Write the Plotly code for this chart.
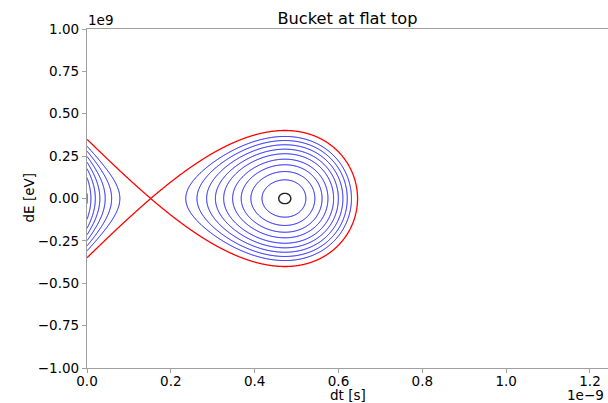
import numpy as np
import plotly.graph_objects as go

# ---- axis ticks (dt in units of 1e-9 s, dE in units of 1e9 eV) ----
x_tick_vals = [0.0, 0.2, 0.4, 0.6, 0.8, 1.0, 1.2]
x_tick_text = ["0.0", "0.2", "0.4", "0.6", "0.8", "1.0", "1.2"]
y_tick_vals = [-1.0, -0.75, -0.5, -0.25, 0.0, 0.25, 0.5, 0.75, 1.0]
y_tick_text = ["\u22121.00", "\u22120.75", "\u22120.50", "\u22120.25", "0.00",
               "0.25", "0.50", "0.75", "1.00"]
x_range = [0.0, 1.243]   # 1e-9 s
y_range = [-1.0, 1.0]    # 1e9 eV

# ---- bucket ----
phi_s = 0.73              # synchronous phase [rad]
dt_stable = 0.472         # stable fixed point [1e-9 s]
dt_unstable = 0.152       # unstable fixed point (separatrix crossing) [1e-9 s]
# contour levels given by their half height in dE at dt_stable [1e9 eV]
centre_level = [0.031]
blue_levels = [0.110, 0.159, 0.199, 0.232, 0.264, 0.291, 0.317, 0.342, 0.366]
separatrix_level = [0.401]

# ---- Hamiltonian on a grid ----
k = (np.pi - 2 * phi_s) / (dt_stable - dt_unstable)


def potential(phi):
    return -np.cos(phi) - phi * np.sin(phi_s)


U_min = potential(phi_s)
U_sep = potential(np.pi - phi_s)
c = (U_sep - U_min) / separatrix_level[0] ** 2

dt_grid = np.linspace(0.0, 0.76, 761)
dE_grid = np.linspace(-0.45, 0.45, 451)
T, E = np.meshgrid(dt_grid, dE_grid)
phi = phi_s - k * (T - dt_stable)
H = E ** 2 + (potential(phi) - U_min) / c   # in (1e9 eV)^2 units

levels = centre_level + blue_levels + separatrix_level
sq = [v ** 2 for v in levels]
xp = [-0.05] + sq + [sq[-1] + 0.05]
fp = [-1.0] + list(range(len(levels))) + [float(len(levels))]
Z = np.round(np.interp(H, xp, fp), 5)

x_vals = dt_grid * 1e-9
y_vals = dE_grid * 1e9


def contour_trace(start, end, color, width):
    return go.Contour(
        x=x_vals, y=y_vals, z=Z,
        contours=dict(start=start, end=end, size=1, coloring="lines"),
        colorscale=[[0, color], [1, color]],
        line=dict(width=width, smoothing=1),
        showscale=False, hoverinfo="skip",
    )


n = len(levels)
fig = go.Figure()
fig.add_trace(contour_trace(1, n - 2 + 0.5, "#0000ff", 1.0))
fig.add_trace(contour_trace(n - 1, n - 1 + 0.5, "#ff0000", 1.3))
fig.add_trace(contour_trace(0, 0.5, "#222222", 1.4))

font = "DejaVu Sans, Arial, sans-serif"
axis_col = "#a0a0a0"

fig.update_layout(
    width=608, height=403,
    margin=dict(l=87, r=0, t=29, b=35),
    paper_bgcolor="white", plot_bgcolor="white",
    font=dict(family=font, size=13.5, color="#000000"),
    showlegend=False,
    title=dict(text="Bucket at flat top", x=(87 + 608) / 2 / 608, xanchor="center",
               y=1 - 18 / 403, yanchor="middle", yref="container",
               font=dict(family=font, size=16.2, color="#000000")),
    xaxis=dict(range=[v * 1e-9 for v in x_range], automargin=False,
               tickvals=[v * 1e-9 for v in x_tick_vals], ticktext=x_tick_text,
               showgrid=False, zeroline=False, showline=True, linecolor=axis_col,
               linewidth=1.3, mirror=True, ticks="outside", ticklen=4,
               tickcolor=axis_col, tickwidth=1, ticklabelstandoff=-3),
    yaxis=dict(range=[v * 1e9 for v in y_range], automargin=False,
               tickvals=[v * 1e9 for v in y_tick_vals], ticktext=y_tick_text,
               showgrid=False, zeroline=False, showline=True, linecolor=axis_col,
               linewidth=1.3, mirror=False, ticks="outside", ticklen=4,
               tickcolor=axis_col, tickwidth=1),
    annotations=[
        dict(text="dt [s]", xref="paper", yref="paper", x=0.5, y=0,
             yshift=-27, xanchor="center", yanchor="middle", showarrow=False,
             font=dict(size=13.5)),
        dict(text="dE [eV]", xref="paper", yref="paper", x=0, y=0.5,
             xshift=-59, xanchor="center", yanchor="middle", textangle=-90,
             showarrow=False, font=dict(size=13.5)),
        dict(text="1e9", xref="paper", yref="paper", x=0, y=1,
             xshift=-1, yshift=9, xanchor="left", yanchor="middle",
             showarrow=False, font=dict(size=13.5)),
        dict(text="1e\u22129", xref="paper", yref="paper", x=1, y=0,
             xshift=-2, yshift=-27, xanchor="right", yanchor="middle",
             showarrow=False, font=dict(size=13.5)),
    ],
)

fig.write_html("out.html",
               config={"displayModeBar": False},
               post_script="document.body.style.margin='0';"
                           "document.body.style.padding='0';")
